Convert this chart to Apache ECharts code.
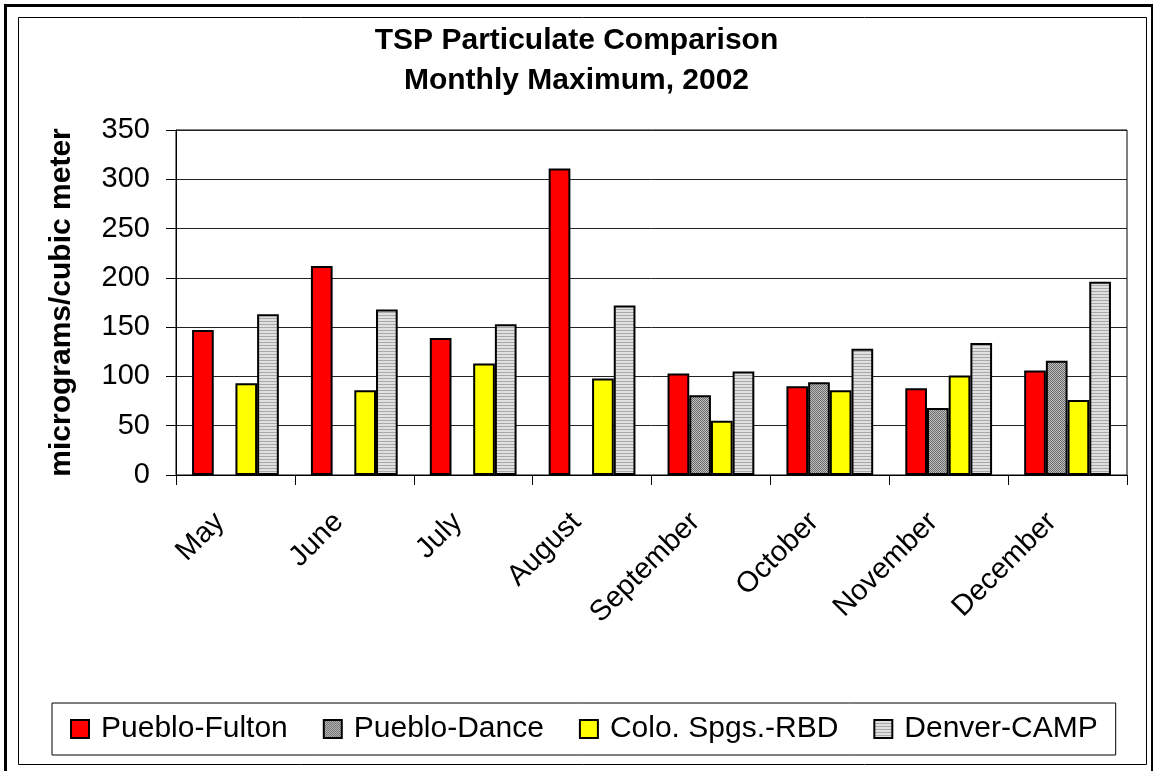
<!DOCTYPE html>
<html>
<head>
<meta charset="utf-8">
<script src="https://cdn.jsdelivr.net/npm/echarts@6/dist/echarts.min.js"></script>
<style>
  html, body { margin: 0; padding: 0; background: #fff; }
  #chart { width: 1153px; height: 771px; }
</style>
</head>
<body>
<div id="chart"></div>
<script>
// ---- data ----
const months = ['May', 'June', 'July', 'August', 'September', 'October', 'November', 'December'];
const seriesNames = ['Pueblo-Fulton', 'Pueblo-Dance', 'Colo. Spgs.-RBD', 'Denver-CAMP'];
const puebloFulton = [147, 212, 139, 311, 103, 90, 88, 106];
const puebloDance = [null, null, null, null, 81, 94, 68, 116];
const coloSpgsRBD = [93, 86, 113, 98, 55, 86, 101, 76];
const denverCAMP = [163, 168, 153, 172, 105, 128, 134, 196];
const yTicks = { min: 0, max: 350, interval: 50 };
const titleText = 'TSP Particulate Comparison\nMonthly Maximum, 2002';
const yAxisName = 'micrograms/cubic meter';

// ---- patterns ----
function checkerPattern() {
  const c = document.createElement('canvas');
  c.width = 4; c.height = 4;
  const g = c.getContext('2d');
  g.fillStyle = '#c0c0c0'; g.fillRect(0, 0, 4, 4);
  g.fillStyle = '#6a6a6a';
  for (let y = 0; y < 4; y++) for (let x = 0; x < 4; x++) if ((x + y) % 2 === 0) g.fillRect(x, y, 1, 1);
  return c;
}
function stripePattern() {
  const c = document.createElement('canvas');
  c.width = 4; c.height = 3;
  const g = c.getContext('2d');
  g.fillStyle = '#e0e0e0'; g.fillRect(0, 0, 4, 3);
  g.fillStyle = '#a8a8a8'; g.fillRect(0, 0, 4, 1);
  return c;
}

const FONT = 'Arial, "Liberation Sans", sans-serif';
const chart = echarts.init(document.getElementById('chart'), null, { renderer: 'canvas' });

function barSeries(name, data, color) {
  return {
    name: name,
    type: 'bar',
    data: data,
    barGap: '0%',
    barCategoryGap: '27%',
    itemStyle: { color: color, borderColor: '#000', borderWidth: 2 },
    emphasis: { disabled: true },
    animation: false
  };
}

chart.setOption({
  backgroundColor: '#fff',
  animation: false,
  textStyle: { fontFamily: FONT },
  title: {
    text: titleText,
    left: 'center',
    top: 21,
    padding: 0,
    textStyle: { fontFamily: FONT, fontSize: 30, fontWeight: 'bold', color: '#000', lineHeight: 40 }
  },
  legend: {
    data: seriesNames,
    left: 52,
    top: 703,
    padding: [11, 18, 11, 18],
    itemGap: 35,
    itemWidth: 18,
    itemHeight: 18,
    icon: 'rect',
    borderColor: '#000',
    borderWidth: 1,
    textStyle: { fontFamily: FONT, fontSize: 30, color: '#000', padding: [0, 0, 0, 7] }
  },
  grid: {
    left: 176, right: 26, top: 130, bottom: 296,
    show: true, borderColor: '#000', borderWidth: 1, backgroundColor: 'transparent'
  },
  xAxis: {
    type: 'category',
    data: months,
    axisLine: { lineStyle: { color: '#000', width: 1 } },
    axisTick: { show: true, inside: false, length: 10, lineStyle: { color: '#000' } },
    axisLabel: {
      rotate: 45,
      interval: 0,
      margin: 27,
      padding: [0, 22, 0, 0],
      fontFamily: FONT,
      fontSize: 29,
      color: '#000'
    }
  },
  yAxis: {
    type: 'value',
    min: yTicks.min,
    max: yTicks.max,
    interval: yTicks.interval,
    name: yAxisName,
    nameLocation: 'middle',
    nameGap: 99,
    nameTextStyle: { fontFamily: FONT, fontSize: 30, fontWeight: 'bold', color: '#000' },
    axisLine: { show: true, lineStyle: { color: '#000', width: 1 } },
    axisTick: { show: true, inside: false, length: 10, lineStyle: { color: '#000' } },
    axisLabel: { margin: 26, fontFamily: FONT, fontSize: 29, color: '#000' },
    splitLine: { show: true, lineStyle: { color: '#222', width: 1 } }
  },
  graphic: [
    { type: 'rect', left: 3, top: 3, shape: { width: 1147, height: 800 }, style: { fill: 'none', stroke: '#000', lineWidth: 3 }, silent: true, z: 100 },
    { type: 'rect', left: 16, top: 15, shape: { width: 1128, height: 747 }, style: { fill: 'none', stroke: '#000', lineWidth: 1 }, silent: true, z: 100 }
  ],
  series: [
    barSeries(seriesNames[0], puebloFulton, '#ff0000'),
    barSeries(seriesNames[1], puebloDance, { image: checkerPattern(), repeat: 'repeat' }),
    barSeries(seriesNames[2], coloSpgsRBD, '#ffff00'),
    barSeries(seriesNames[3], denverCAMP, { image: stripePattern(), repeat: 'repeat' })
  ]
});
</script>
</body>
</html>
